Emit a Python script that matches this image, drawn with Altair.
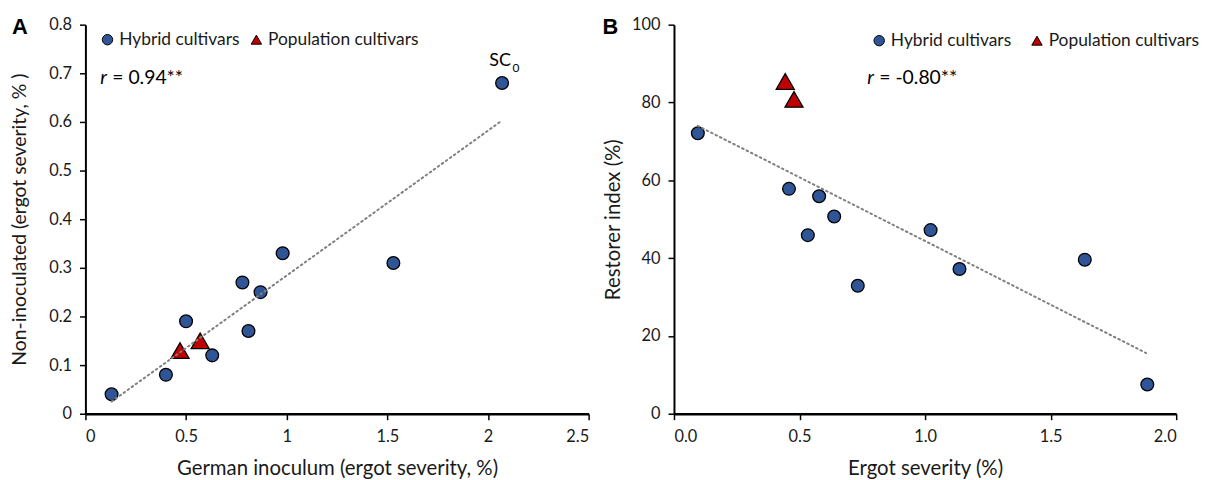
import altair as alt
import pandas as pd

groups = ["Hybrid cultivars", "Population cultivars"]
colors = ["#2F5597", "#C00000"]
shapes = ["circle", "triangle-up"]

# Panel A
a_hyb_x = [0.13, 0.40, 0.50, 0.63, 0.78, 0.81, 0.87, 0.98, 1.53, 2.07]
a_hyb_y = [0.04, 0.08, 0.19, 0.12, 0.27, 0.17, 0.25, 0.33, 0.31, 0.68]
a_pop_x = [0.47, 0.57]
a_pop_y = [0.13, 0.15]
a_trend_x = [0.13, 2.06]
a_trend_y = [0.025, 0.60]
a_xticks = [0, 0.5, 1, 1.5, 2, 2.5]
a_yticks = [0, 0.1, 0.2, 0.3, 0.4, 0.5, 0.6, 0.7, 0.8]
a_r = "0.94**"
a_r_pos = [0.074, 0.69]
a_lab_text = ["SC", "0"]
a_lab_pos = [2.07, 0.68]

# Panel B
b_hyb_x = [0.095, 0.458, 0.578, 0.638, 0.533, 0.732, 1.022, 1.137, 1.636, 1.885]
b_hyb_y = [72.1, 57.8, 55.9, 50.7, 45.9, 32.9, 47.2, 37.2, 39.6, 7.5]
b_pop_x = [0.443, 0.478]
b_pop_y = [85.4, 80.8]
b_trend_x = [0.095, 1.88]
b_trend_y = [74.0, 15.6]
b_xticks = [0, 0.5, 1.0, 1.5, 2.0]
b_yticks = [0, 20, 40, 60, 80, 100]
b_r = "-0.80**"
b_r_pos = [0.77, 86.4]

FONT = "Lato"
H = 392


def points_df(hx, hy, px, py):
    return pd.DataFrame({
        "x": hx + px,
        "y": hy + py,
        "group": [groups[0]] * len(hx) + [groups[1]] * len(px),
    })


def panel(df, tx, ty, rtxt, rpos, xdom, xvals, xfmt, xtitle, ydom, yvals, yfmt,
          ytitle, ytx, ytsize, legx, legy, legpad, letter, letter_dx, width, extra=None):
    xenc = alt.X("x:Q", scale=alt.Scale(domain=xdom, nice=False, zero=False),
                 axis=alt.Axis(values=xvals, format=xfmt, title=xtitle, titleY=55,
                               titleBaseline="middle", domainWidth=2.5,
                               labelPadding=9))
    yenc = alt.Y("y:Q", scale=alt.Scale(domain=ydom, nice=False, zero=False),
                 axis=alt.Axis(values=yvals, format=yfmt, title=ytitle, titleX=ytx,
                               titleFontSize=ytsize,
                               titleBaseline="middle", domainWidth=2,
                               labelPadding=8))
    pts = alt.Chart(df).mark_point(filled=True, opacity=1, stroke="black",
                                   strokeWidth=1.3).encode(
        x=xenc, y=yenc,
        color=alt.Color("group:N", scale=alt.Scale(domain=groups, range=colors),
                        legend=alt.Legend(orient="none", legendX=legx, legendY=legy,
                                          direction="horizontal", title=None,
                                          labelFont=FONT, labelFontSize=17.5,
                                          labelColor="#1a1a1a",
                                          symbolSize=110, symbolStrokeColor="black",
                                          symbolStrokeWidth=1, columnPadding=legpad,
                                          labelOffset=3, padding=0)),
        shape=alt.Shape("group:N", scale=alt.Scale(domain=groups, range=shapes),
                        legend=alt.Legend(orient="none", legendX=legx, legendY=legy,
                                          direction="horizontal", title=None)),
        size=alt.Size("group:N", scale=alt.Scale(domain=groups, range=[165, 330]),
                      legend=None),
    )
    trend = alt.Chart(pd.DataFrame({"x": tx, "y": ty})).mark_line(
        color="#808080", strokeWidth=2, strokeDash=[1.6, 3.4], strokeCap="round"
    ).encode(x="x:Q", y="y:Q")
    rdf = pd.DataFrame({"x": [rpos[0]], "y": [rpos[1]], "r": ["r"], "t": ["= " + rtxt]})
    r1 = alt.Chart(rdf).mark_text(align="left", baseline="middle", font=FONT,
                                  fontSize=19.5, fontStyle="italic", color="black").encode(
        x="x:Q", y="y:Q", text="r:N")
    r2 = alt.Chart(rdf).mark_text(align="left", baseline="middle", font=FONT,
                                  fontSize=19.5, color="black", dx=12).encode(
        x="x:Q", y="y:Q", text="t:N")
    layers = [pts, trend, r1, r2] + (extra or [])
    return alt.layer(*layers).properties(
        width=width, height=H,
        title=alt.TitleParams(text=letter, anchor="start", frame="group", orient="top",
                              dx=letter_dx, dy=44, offset=0, baseline="bottom",
                              font="Liberation Sans", fontSize=22, fontWeight="bold",
                              color="black"),
    )


a_df = points_df(a_hyb_x, a_hyb_y, a_pop_x, a_pop_y)
b_df = points_df(b_hyb_x, b_hyb_y, b_pop_x, b_pop_y)

lab_df = pd.DataFrame({"x": [a_lab_pos[0]], "y": [a_lab_pos[1]],
                       "t1": [a_lab_text[0]], "t2": [a_lab_text[1]]})
sc1 = alt.Chart(lab_df).mark_text(align="center", baseline="middle", font=FONT,
                                  fontSize=18, color="black", dx=-2, dy=-22).encode(
    x="x:Q", y="y:Q", text="t1:N")
sc2 = alt.Chart(lab_df).mark_text(align="center", baseline="middle", font=FONT,
                                  fontSize=12, color="black", dx=14, dy=-15).encode(
    x="x:Q", y="y:Q", text="t2:N")

left = panel(a_df, a_trend_x, a_trend_y, a_r, a_r_pos, [0, 2.5], a_xticks, "~f",
             "German inoculum (ergot severity, %)", [0, 0.8], a_yticks, "~f",
             "Non-inoculated (ergot severity, % )", -66, 19.5, 13.5, 6, 8, "A", -74,
             507, extra=[sc1, sc2])

right = panel(b_df, b_trend_x, b_trend_y, b_r, b_r_pos, [0, 2.0], b_xticks, ".1f",
              "Ergot severity (%)", [0, 100], b_yticks, "d",
              "Restorer index (%)", -60.5, 20.5, 198, 7, 17, "B", -72, 506)

chart = alt.hconcat(left, right, spacing=86, bounds="flush").resolve_legend(
    color="independent", shape="independent"
).properties(
    padding={"left": 2, "top": 6, "right": 2, "bottom": 2},
).configure_view(stroke=None).configure_axis(
    grid=False, domainColor="black", tickColor="black", tickWidth=1.5, tickSize=6,
    labelFont=FONT, labelFontSize=16.5, labelColor="#1a1a1a",
    titleFont=FONT, titleFontSize=20.5, titleFontWeight="normal", titleColor="#1a1a1a",
)

chart.save("out.html", embed_options={"renderer": "svg", "actions": False})
